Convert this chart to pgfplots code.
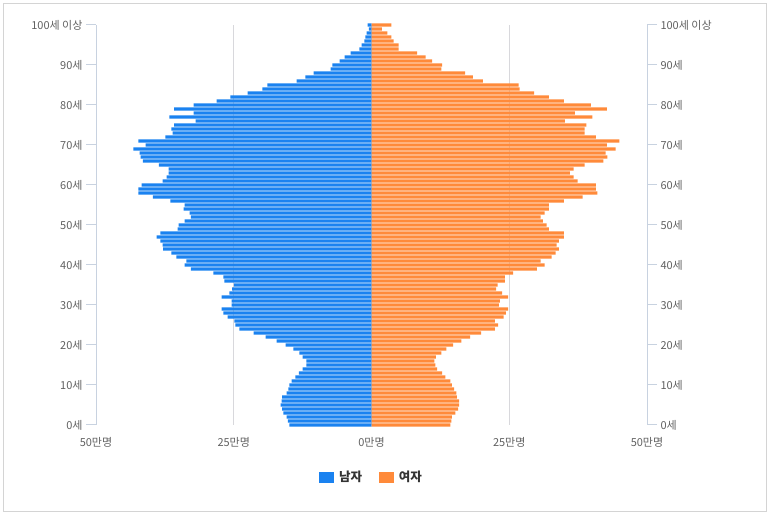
\documentclass[border=0pt]{standalone}
\usepackage{fontspec}
\setmainfont{Noto Sans CJK KR}
\usepackage{pgfplots}
\usepackage{pgfplotstable}
\pgfplotsset{compat=1.18}
\definecolor{mblue}{HTML}{1A82F0}
\definecolor{forange}{HTML}{FF8A3A}
\definecolor{axiscol}{HTML}{C8D2E0}
\definecolor{gridcol}{HTML}{D8D8DC}
\definecolor{labcol}{HTML}{606060}
\definecolor{legcol}{HTML}{333333}
\definecolor{framecol}{HTML}{D4D4D4}
\pgfplotstableread{
age m f
0 14.9 14.3
1 15.2 14.5
2 15.4 14.6
3 16.0 15.2
4 16.2 15.7
5 16.5 15.9
6 16.3 15.9
7 16.2 15.5
8 15.4 15.4
9 15.1 15.0
10 14.9 14.6
11 14.5 14.3
12 13.8 13.4
13 13.2 12.8
14 12.5 11.9
15 11.8 11.6
16 11.8 11.4
17 12.5 11.7
18 13.1 12.7
19 14.2 13.6
20 15.6 14.8
21 17.2 16.3
22 19.2 17.9
23 21.4 19.9
24 24.0 22.4
25 24.7 23.0
26 24.9 22.4
27 26.1 24.0
28 26.9 24.4
29 27.2 24.8
30 25.4 23.1
31 25.4 23.3
32 27.2 24.8
33 25.8 23.7
34 25.3 22.6
35 25.0 22.9
36 26.7 24.2
37 26.9 24.2
38 28.7 25.7
39 32.8 30.0
40 33.9 31.4
41 33.6 30.7
42 35.4 32.7
43 36.3 33.4
44 37.8 34.0
45 37.9 33.6
46 38.3 34.0
47 39.0 34.9
48 38.3 34.9
49 35.2 32.2
50 35.0 31.8
51 33.9 31.1
52 32.8 30.7
53 33.0 31.4
54 34.1 32.2
55 33.9 32.2
56 36.5 34.9
57 39.7 38.3
58 42.3 41.0
59 42.3 40.7
60 41.7 40.7
61 37.9 37.4
62 37.2 36.7
63 36.8 36.0
64 36.8 36.7
65 38.6 38.7
66 41.5 42.1
67 41.9 42.8
68 42.1 42.5
69 43.2 44.3
70 41.0 42.7
71 42.3 45.0
72 37.4 40.7
73 36.1 38.7
74 36.3 38.7
75 35.8 39.0
76 31.9 35.1
77 36.7 40.1
78 32.3 36.9
79 35.8 42.7
80 32.3 39.8
81 28.1 34.9
82 25.6 32.2
83 22.5 29.5
84 19.8 26.9
85 18.9 26.7
86 13.6 20.2
87 12.0 18.4
88 10.5 17.0
89 7.4 12.7
90 7.1 12.8
91 5.8 11.0
92 4.9 9.8
93 3.8 8.3
94 2.2 4.9
95 1.8 4.9
96 1.3 4.0
97 1.1 3.6
98 0.9 2.9
99 0.5 1.9
100 0.7 3.6
}\pop
\begin{document}
\begin{tikzpicture}
\useasboundingbox (0,0) rectangle (770bp,515bp);
\draw[framecol, line width=1bp] (3.5bp,3.5bp) rectangle (766.5bp,511.5bp);
\begin{axis}[
  at={(96bp,90bp)}, anchor=south west,
  scale only axis, width=551bp, height=400bp,
  xmin=-50, xmax=50, ymin=0, ymax=100,
  clip=false,
  /pgf/number format/assume math mode=true,
  axis y line*=left, axis x line*=bottom,
  x axis line style={draw=none},
  y axis line style={axiscol, line width=1bp},
  xtick={-50,-25,0,25,50},
  xticklabels={50만명,25만명,0만명,25만명,50만명},
  ytick={0,10,20,30,40,50,60,70,80,90,100},
  yticklabels={0세,10세,20세,30세,40세,50세,60세,70세,80세,90세,100세 이상},
  tick align=outside, major tick length=10bp,
  xtick style={draw=none},
  ytick style={axiscol, line width=1bp},
  xmajorgrids=true,
  grid style={gridcol, line width=1bp},
  xticklabel style={font=\fontsize{11bp}{13bp}\selectfont, text=labcol, yshift=1.5bp},
  yticklabel style={font=\fontsize{11bp}{13bp}\selectfont, text=labcol},
  legend style={at={(0.5,-0.13)}, anchor=center, draw=none, fill=none,
    font=\fontsize{12.5bp}{14bp}\selectfont\bfseries, text=legcol,
    /tikz/every odd column/.append style={column sep=3bp},
    /tikz/every even column/.append style={column sep=15bp}},
  legend columns=2,
]
\addplot[xbar, bar width=3.1bp, bar shift=0pt, fill=mblue, draw=none,
  legend image code/.code={\fill[mblue] (0bp,-5.5bp) rectangle (15bp,5.5bp);}]
  table[x expr=-\thisrow{m}, y=age] {\pop};
\addplot[xbar, bar width=3.1bp, bar shift=0pt, fill=forange, draw=none,
  legend image code/.code={\fill[forange] (0bp,-5.5bp) rectangle (15bp,5.5bp);}]
  table[x=f, y=age] {\pop};
\legend{남자,여자}
\end{axis}
\begin{axis}[
  at={(96bp,90bp)}, anchor=south west,
  scale only axis, width=551bp, height=400bp,
  xmin=-50, xmax=50, ymin=0, ymax=100,
  hide x axis,
  axis y line*=right,
  y axis line style={axiscol, line width=1bp},
  ytick={0,10,20,30,40,50,60,70,80,90,100},
  yticklabels={0세,10세,20세,30세,40세,50세,60세,70세,80세,90세,100세 이상},
  tick align=outside, major tick length=10bp,
  ytick style={axiscol, line width=1bp},
  yticklabel style={font=\fontsize{11bp}{13bp}\selectfont, text=labcol},
]
\end{axis}
\end{tikzpicture}
\end{document}
